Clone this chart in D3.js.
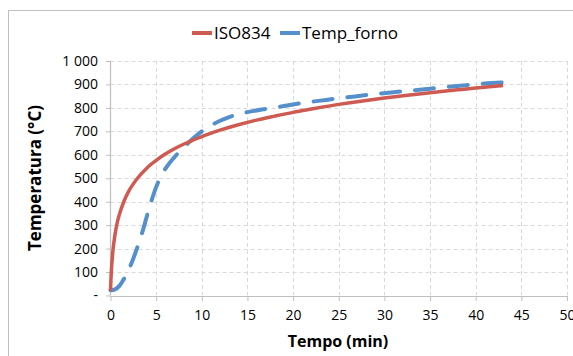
<!DOCTYPE html>
<html>
<head>
<meta charset="utf-8">
<script src="https://cdn.jsdelivr.net/npm/d3@7"></script>
<style>
  body { margin: 0; background: #fff; }
  text { font-family: "Open Sans", sans-serif; fill: #000; }
</style>
</head>
<body>
<div id="chart"></div>
<script>
(function(){
  'use strict';

  // ISO834 standard curve
  var isoTime = [0, 0.05, 0.1, 0.25, 0.5, 0.75, 1, 1.5, 2, 2.5, 3, 4, 5, 6, 7, 8, 9, 10, 12, 14, 16, 18, 20, 22, 25, 28, 30, 33, 35, 38, 40, 43];
  var isoTemp = [20, 70, 108, 185, 261, 313, 349, 404, 445, 476, 502, 544, 576, 603, 626, 645, 662, 678, 705, 728, 748, 765, 781, 795, 815, 832, 842, 856, 865, 877, 885, 896];

  // furnace temperature
  var fornoTime = [0, 0.5, 1, 1.5, 2, 2.5, 3, 3.5, 4, 4.5, 5, 6, 7, 8, 9, 10, 11, 12, 13, 14, 15, 17, 19, 21, 23, 25, 27, 29, 31, 33, 35, 37, 39, 41, 43];
  var fornoTemp = [22, 26, 42, 72, 110, 158, 212, 272, 340, 405, 462, 540, 590, 630, 668, 700, 725, 745, 761, 773, 782, 796, 808, 821, 831, 841, 850, 859, 867, 874, 882, 890, 897, 904, 909];

  var xTicks = [0, 5, 10, 15, 20, 25, 30, 35, 40, 45, 50];
  var yTicks = [0, 100, 200, 300, 400, 500, 600, 700, 800, 900, 1000];

  var w = 573, h = 356,
      m = {l: 110.5, t: 61};

  var svg = d3.select('#chart').append('svg')
    .attr('width', w)
    .attr('height', h);

  // chart border
  svg.append('rect')
    .attr('x', 8.5).attr('y', 10.5)
    .attr('width', w).attr('height', h)
    .style('fill', 'none')
    .style('stroke', '#bfbfbf');

  var x = d3.scaleLinear().domain([0, 50]).range([m.l, 567]),
      y = d3.scaleLinear().domain([0, 1000]).range([295.5, m.t]);

  // grid
  var grid = svg.append('g').attr('class', 'grid');
  grid.selectAll('.hg').data(yTicks.slice(1)).enter().append('line')
    .attr('x1', m.l).attr('x2', x(50))
    .attr('y1', function(d){ return Math.round(y(d)) + 0.5; })
    .attr('y2', function(d){ return Math.round(y(d)) + 0.5; })
    .style('stroke', '#d9d9d9')
    .style('stroke-dasharray', '4,3');
  grid.selectAll('.vg').data(xTicks.slice(1)).enter().append('line')
    .attr('y1', y(1000)).attr('y2', y(0))
    .attr('x1', function(d){ return Math.round(x(d)) + 0.5; })
    .attr('x2', function(d){ return Math.round(x(d)) + 0.5; })
    .style('stroke', '#d9d9d9')
    .style('stroke-dasharray', '4,3');

  var xAxis = d3.axisBottom(x)
      .tickValues(xTicks)
      .tickSize(5)
      .tickPadding(9),
    yAxis = d3.axisLeft(y)
      .tickValues(yTicks)
      .tickSize(5)
      .tickPadding(8)
      .tickFormat(function(d){
        if (d === 0) return '-';
        return d >= 1000 ? d3.format(',')(d).replace(',', '\u00a0') : d;
      });

  var gx = svg.append('g')
    .attr('transform', 'translate(0,' + Math.round(y(0)) + ')')
    .call(xAxis);
  var gy = svg.append('g')
    .attr('transform', 'translate(' + Math.round(m.l) + ',0)')
    .call(yAxis);

  [gx, gy].forEach(function(g){
    g.select('.domain').style('stroke', '#bfbfbf').style('stroke-width', 1.2);
    g.selectAll('.tick line').style('stroke', '#bfbfbf');
    g.selectAll('.tick text').style('font-size', '14px').style('fill', '#000')
      .style('font-family', '"Open Sans", sans-serif');
  });
  gx.select('.domain').attr('d', 'M' + m.l + ',0.5H' + x(50));
  gy.select('.domain').attr('d', 'M-0.5,' + y(1000) + 'V' + y(0));

  // axis titles
  svg.append('text')
    .attr('x', 338).attr('y', 347)
    .attr('text-anchor', 'middle')
    .style('font-size', '16px').style('font-weight', 'bold')
    .text('Tempo (min)');
  svg.append('text')
    .attr('transform', 'translate(41,178) rotate(-90)')
    .attr('text-anchor', 'middle')
    .style('font-size', '17px').style('font-weight', 'bold')
    .text('Temperatura (°C)');

  var line = d3.line()
    .x(function(d){ return x(d[0]); })
    .y(function(d){ return y(d[1]); })
    .curve(d3.curveMonotoneX);

  var isoData = isoTime.map(function(t, i){ return [t, isoTemp[i]]; }),
      fornoData = fornoTime.map(function(t, i){ return [t, fornoTemp[i]]; });

  svg.append('path')
    .datum(fornoData)
    .attr('d', line)
    .style('fill', 'none')
    .style('stroke', '#5590cc')
    .style('stroke-width', 4)
    .style('stroke-linecap', 'round')
    .style('stroke-dasharray', '19,15');

  svg.append('path')
    .datum(isoData)
    .attr('d', line)
    .style('fill', 'none')
    .style('stroke', '#cf5a52')
    .style('stroke-width', 3.5);

  // legend
  var leg = [
    {name: 'ISO834', c: '#cf5a52', x: 192},
    {name: 'Temp_forno', c: '#5590cc', x: 280}
  ];
  var lg = svg.selectAll('.leg').data(leg).enter().append('g')
    .attr('transform', function(d){ return 'translate(' + d.x + ',33)'; });
  lg.append('line')
    .attr('x1', 0).attr('x2', 20)
    .style('stroke', function(d){ return d.c; })
    .style('stroke-width', 4);
  lg.append('text')
    .attr('x', 22).attr('y', 6)
    .style('font-size', '17px')
    .text(function(d){ return d.name; });

}());
</script>
</body>
</html>
